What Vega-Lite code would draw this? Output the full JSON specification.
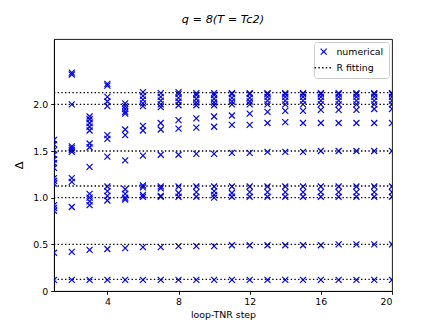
{
  "$schema": "https://vega.github.io/schema/vega-lite/v6.json",
  "autosize": {"type": "none"},
  "width": 338,
  "height": 252,
  "padding": {"left": 54, "top": 39, "right": 44, "bottom": 36},
  "background": "white",
  "config": {
    "font": "DejaVu Sans",
    "view": {"stroke": "#000000", "strokeWidth": 0.9},
    "axis": {"grid": false, "domainColor": "#000000", "domainWidth": 0.9, "tickColor": "#000000", "tickWidth": 0.9, "tickSize": 3.3, "labelFont": "DejaVu Sans", "labelFontSize": 9.4, "labelColor": "#000000", "titleFont": "DejaVu Sans", "titleFontWeight": "normal", "titleColor": "#000000", "labelPadding": 3},
    "legend": {
      "title": null, "orient": "top-right", "offset": 3,
      "labelFontSize": 9.4, "labelFont": "DejaVu Sans", "labelColor": "#000000",
      "strokeColor": "#cccccc", "fillColor": "white", "padding": 5, "cornerRadius": 3,
      "labelOffset": 8, "rowPadding": 4
    }
  },
  "title": {"text": "q = 8(T = Tc2)", "fontStyle": "italic", "fontWeight": "normal", "fontSize": 11.3, "font": "DejaVu Sans", "color": "#000000", "offset": 14},
  "datasets": {
    "pts": [
      {"step": 1, "delta": 0.12, "series": "numerical"}, {"step": 1, "delta": 0.41, "series": "numerical"}, {"step": 1, "delta": 0.86, "series": "numerical"}, {"step": 1, "delta": 0.89, "series": "numerical"}, {"step": 1, "delta": 0.92, "series": "numerical"}, {"step": 1, "delta": 1.15, "series": "numerical"}, {"step": 1, "delta": 1.18, "series": "numerical"}, {"step": 1, "delta": 1.21, "series": "numerical"}, {"step": 1, "delta": 1.32, "series": "numerical"}, {"step": 1, "delta": 1.37, "series": "numerical"}, {"step": 1, "delta": 1.41, "series": "numerical"}, {"step": 1, "delta": 1.46, "series": "numerical"}, {"step": 1, "delta": 1.51, "series": "numerical"}, {"step": 1, "delta": 1.57, "series": "numerical"}, {"step": 1, "delta": 1.62, "series": "numerical"},
      {"step": 2, "delta": 0.12, "series": "numerical"}, {"step": 2, "delta": 0.42, "series": "numerical"}, {"step": 2, "delta": 0.90, "series": "numerical"}, {"step": 2, "delta": 1.17, "series": "numerical"}, {"step": 2, "delta": 1.21, "series": "numerical"}, {"step": 2, "delta": 1.49, "series": "numerical"}, {"step": 2, "delta": 1.51, "series": "numerical"}, {"step": 2, "delta": 1.53, "series": "numerical"}, {"step": 2, "delta": 1.55, "series": "numerical"}, {"step": 2, "delta": 2.0, "series": "numerical"}, {"step": 2, "delta": 2.32, "series": "numerical"}, {"step": 2, "delta": 2.34, "series": "numerical"},
      {"step": 3, "delta": 0.12, "series": "numerical"}, {"step": 3, "delta": 0.44, "series": "numerical"}, {"step": 3, "delta": 0.92, "series": "numerical"}, {"step": 3, "delta": 0.96, "series": "numerical"}, {"step": 3, "delta": 1.0, "series": "numerical"}, {"step": 3, "delta": 1.04, "series": "numerical"}, {"step": 3, "delta": 1.33, "series": "numerical"}, {"step": 3, "delta": 1.54, "series": "numerical"}, {"step": 3, "delta": 1.58, "series": "numerical"}, {"step": 3, "delta": 1.72, "series": "numerical"}, {"step": 3, "delta": 1.76, "series": "numerical"}, {"step": 3, "delta": 1.8, "series": "numerical"}, {"step": 3, "delta": 1.84, "series": "numerical"}, {"step": 3, "delta": 1.87, "series": "numerical"},
      {"step": 4, "delta": 0.12, "series": "numerical"}, {"step": 4, "delta": 0.45, "series": "numerical"}, {"step": 4, "delta": 0.97, "series": "numerical"}, {"step": 4, "delta": 1.02, "series": "numerical"}, {"step": 4, "delta": 1.07, "series": "numerical"}, {"step": 4, "delta": 1.12, "series": "numerical"}, {"step": 4, "delta": 1.44, "series": "numerical"}, {"step": 4, "delta": 1.63, "series": "numerical"}, {"step": 4, "delta": 1.67, "series": "numerical"}, {"step": 4, "delta": 1.98, "series": "numerical"}, {"step": 4, "delta": 2.03, "series": "numerical"}, {"step": 4, "delta": 2.08, "series": "numerical"}, {"step": 4, "delta": 2.2, "series": "numerical"}, {"step": 4, "delta": 2.22, "series": "numerical"},
      {"step": 5, "delta": 0.12, "series": "numerical"}, {"step": 5, "delta": 0.46, "series": "numerical"}, {"step": 5, "delta": 0.98, "series": "numerical"}, {"step": 5, "delta": 1.0, "series": "numerical"}, {"step": 5, "delta": 1.04, "series": "numerical"}, {"step": 5, "delta": 1.09, "series": "numerical"}, {"step": 5, "delta": 1.4, "series": "numerical"}, {"step": 5, "delta": 1.67, "series": "numerical"}, {"step": 5, "delta": 1.73, "series": "numerical"}, {"step": 5, "delta": 1.9, "series": "numerical"}, {"step": 5, "delta": 1.92, "series": "numerical"}, {"step": 5, "delta": 1.95, "series": "numerical"}, {"step": 5, "delta": 1.98, "series": "numerical"}, {"step": 5, "delta": 2.01, "series": "numerical"},
      {"step": 6, "delta": 0.12, "series": "numerical"}, {"step": 6, "delta": 0.47, "series": "numerical"}, {"step": 6, "delta": 1.01, "series": "numerical"}, {"step": 6, "delta": 1.03, "series": "numerical"}, {"step": 6, "delta": 1.11, "series": "numerical"}, {"step": 6, "delta": 1.13, "series": "numerical"}, {"step": 6, "delta": 1.45, "series": "numerical"}, {"step": 6, "delta": 1.72, "series": "numerical"}, {"step": 6, "delta": 1.77, "series": "numerical"}, {"step": 6, "delta": 1.98, "series": "numerical"}, {"step": 6, "delta": 2.01, "series": "numerical"}, {"step": 6, "delta": 2.05, "series": "numerical"}, {"step": 6, "delta": 2.09, "series": "numerical"}, {"step": 6, "delta": 2.13, "series": "numerical"},
      {"step": 7, "delta": 0.12, "series": "numerical"}, {"step": 7, "delta": 0.47, "series": "numerical"}, {"step": 7, "delta": 1.01, "series": "numerical"}, {"step": 7, "delta": 1.02, "series": "numerical"}, {"step": 7, "delta": 1.1, "series": "numerical"}, {"step": 7, "delta": 1.12, "series": "numerical"}, {"step": 7, "delta": 1.46, "series": "numerical"}, {"step": 7, "delta": 1.73, "series": "numerical"}, {"step": 7, "delta": 1.8, "series": "numerical"}, {"step": 7, "delta": 1.97, "series": "numerical"}, {"step": 7, "delta": 2.0, "series": "numerical"}, {"step": 7, "delta": 2.04, "series": "numerical"}, {"step": 7, "delta": 2.08, "series": "numerical"}, {"step": 7, "delta": 2.12, "series": "numerical"},
      {"step": 8, "delta": 0.12, "series": "numerical"}, {"step": 8, "delta": 0.48, "series": "numerical"}, {"step": 8, "delta": 1.01, "series": "numerical"}, {"step": 8, "delta": 1.05, "series": "numerical"}, {"step": 8, "delta": 1.12, "series": "numerical"}, {"step": 8, "delta": 1.46, "series": "numerical"}, {"step": 8, "delta": 1.74, "series": "numerical"}, {"step": 8, "delta": 1.83, "series": "numerical"}, {"step": 8, "delta": 1.99, "series": "numerical"}, {"step": 8, "delta": 2.03, "series": "numerical"}, {"step": 8, "delta": 2.07, "series": "numerical"}, {"step": 8, "delta": 2.11, "series": "numerical"}, {"step": 8, "delta": 2.13, "series": "numerical"},
      {"step": 9, "delta": 0.12, "series": "numerical"}, {"step": 9, "delta": 0.48, "series": "numerical"}, {"step": 9, "delta": 1.01, "series": "numerical"}, {"step": 9, "delta": 1.06, "series": "numerical"}, {"step": 9, "delta": 1.12, "series": "numerical"}, {"step": 9, "delta": 1.47, "series": "numerical"}, {"step": 9, "delta": 1.75, "series": "numerical"}, {"step": 9, "delta": 1.85, "series": "numerical"}, {"step": 9, "delta": 1.99, "series": "numerical"}, {"step": 9, "delta": 2.02, "series": "numerical"}, {"step": 9, "delta": 2.06, "series": "numerical"}, {"step": 9, "delta": 2.1, "series": "numerical"}, {"step": 9, "delta": 2.12, "series": "numerical"},
      {"step": 10, "delta": 0.12, "series": "numerical"}, {"step": 10, "delta": 0.48, "series": "numerical"}, {"step": 10, "delta": 1.0, "series": "numerical"}, {"step": 10, "delta": 1.03, "series": "numerical"}, {"step": 10, "delta": 1.07, "series": "numerical"}, {"step": 10, "delta": 1.12, "series": "numerical"}, {"step": 10, "delta": 1.47, "series": "numerical"}, {"step": 10, "delta": 1.76, "series": "numerical"}, {"step": 10, "delta": 1.87, "series": "numerical"}, {"step": 10, "delta": 1.99, "series": "numerical"}, {"step": 10, "delta": 2.02, "series": "numerical"}, {"step": 10, "delta": 2.06, "series": "numerical"}, {"step": 10, "delta": 2.1, "series": "numerical"}, {"step": 10, "delta": 2.12, "series": "numerical"},
      {"step": 11, "delta": 0.12, "series": "numerical"}, {"step": 11, "delta": 0.49, "series": "numerical"}, {"step": 11, "delta": 1.01, "series": "numerical"}, {"step": 11, "delta": 1.05, "series": "numerical"}, {"step": 11, "delta": 1.12, "series": "numerical"}, {"step": 11, "delta": 1.48, "series": "numerical"}, {"step": 11, "delta": 1.78, "series": "numerical"}, {"step": 11, "delta": 1.88, "series": "numerical"}, {"step": 11, "delta": 2.0, "series": "numerical"}, {"step": 11, "delta": 2.03, "series": "numerical"}, {"step": 11, "delta": 2.07, "series": "numerical"}, {"step": 11, "delta": 2.11, "series": "numerical"}, {"step": 11, "delta": 2.12, "series": "numerical"},
      {"step": 12, "delta": 0.12, "series": "numerical"}, {"step": 12, "delta": 0.49, "series": "numerical"}, {"step": 12, "delta": 1.01, "series": "numerical"}, {"step": 12, "delta": 1.06, "series": "numerical"}, {"step": 12, "delta": 1.12, "series": "numerical"}, {"step": 12, "delta": 1.48, "series": "numerical"}, {"step": 12, "delta": 1.78, "series": "numerical"}, {"step": 12, "delta": 1.9, "series": "numerical"}, {"step": 12, "delta": 2.0, "series": "numerical"}, {"step": 12, "delta": 2.03, "series": "numerical"}, {"step": 12, "delta": 2.07, "series": "numerical"}, {"step": 12, "delta": 2.11, "series": "numerical"}, {"step": 12, "delta": 2.12, "series": "numerical"},
      {"step": 13, "delta": 0.12, "series": "numerical"}, {"step": 13, "delta": 0.49, "series": "numerical"}, {"step": 13, "delta": 1.01, "series": "numerical"}, {"step": 13, "delta": 1.06, "series": "numerical"}, {"step": 13, "delta": 1.12, "series": "numerical"}, {"step": 13, "delta": 1.49, "series": "numerical"}, {"step": 13, "delta": 1.8, "series": "numerical"}, {"step": 13, "delta": 1.92, "series": "numerical"}, {"step": 13, "delta": 2.0, "series": "numerical"}, {"step": 13, "delta": 2.04, "series": "numerical"}, {"step": 13, "delta": 2.08, "series": "numerical"}, {"step": 13, "delta": 2.11, "series": "numerical"}, {"step": 13, "delta": 2.12, "series": "numerical"},
      {"step": 14, "delta": 0.12, "series": "numerical"}, {"step": 14, "delta": 0.49, "series": "numerical"}, {"step": 14, "delta": 1.01, "series": "numerical"}, {"step": 14, "delta": 1.06, "series": "numerical"}, {"step": 14, "delta": 1.12, "series": "numerical"}, {"step": 14, "delta": 1.49, "series": "numerical"}, {"step": 14, "delta": 1.81, "series": "numerical"}, {"step": 14, "delta": 1.93, "series": "numerical"}, {"step": 14, "delta": 2.0, "series": "numerical"}, {"step": 14, "delta": 2.04, "series": "numerical"}, {"step": 14, "delta": 2.08, "series": "numerical"}, {"step": 14, "delta": 2.11, "series": "numerical"}, {"step": 14, "delta": 2.12, "series": "numerical"},
      {"step": 15, "delta": 0.12, "series": "numerical"}, {"step": 15, "delta": 0.49, "series": "numerical"}, {"step": 15, "delta": 1.01, "series": "numerical"}, {"step": 15, "delta": 1.06, "series": "numerical"}, {"step": 15, "delta": 1.12, "series": "numerical"}, {"step": 15, "delta": 1.49, "series": "numerical"}, {"step": 15, "delta": 1.8, "series": "numerical"}, {"step": 15, "delta": 1.93, "series": "numerical"}, {"step": 15, "delta": 2.0, "series": "numerical"}, {"step": 15, "delta": 2.04, "series": "numerical"}, {"step": 15, "delta": 2.08, "series": "numerical"}, {"step": 15, "delta": 2.11, "series": "numerical"}, {"step": 15, "delta": 2.12, "series": "numerical"},
      {"step": 16, "delta": 0.12, "series": "numerical"}, {"step": 16, "delta": 0.49, "series": "numerical"}, {"step": 16, "delta": 1.01, "series": "numerical"}, {"step": 16, "delta": 1.06, "series": "numerical"}, {"step": 16, "delta": 1.12, "series": "numerical"}, {"step": 16, "delta": 1.5, "series": "numerical"}, {"step": 16, "delta": 1.8, "series": "numerical"}, {"step": 16, "delta": 1.94, "series": "numerical"}, {"step": 16, "delta": 2.0, "series": "numerical"}, {"step": 16, "delta": 2.04, "series": "numerical"}, {"step": 16, "delta": 2.08, "series": "numerical"}, {"step": 16, "delta": 2.11, "series": "numerical"}, {"step": 16, "delta": 2.12, "series": "numerical"},
      {"step": 17, "delta": 0.12, "series": "numerical"}, {"step": 17, "delta": 0.5, "series": "numerical"}, {"step": 17, "delta": 1.01, "series": "numerical"}, {"step": 17, "delta": 1.06, "series": "numerical"}, {"step": 17, "delta": 1.12, "series": "numerical"}, {"step": 17, "delta": 1.5, "series": "numerical"}, {"step": 17, "delta": 1.8, "series": "numerical"}, {"step": 17, "delta": 1.94, "series": "numerical"}, {"step": 17, "delta": 2.0, "series": "numerical"}, {"step": 17, "delta": 2.04, "series": "numerical"}, {"step": 17, "delta": 2.08, "series": "numerical"}, {"step": 17, "delta": 2.11, "series": "numerical"}, {"step": 17, "delta": 2.12, "series": "numerical"},
      {"step": 18, "delta": 0.12, "series": "numerical"}, {"step": 18, "delta": 0.5, "series": "numerical"}, {"step": 18, "delta": 1.01, "series": "numerical"}, {"step": 18, "delta": 1.06, "series": "numerical"}, {"step": 18, "delta": 1.12, "series": "numerical"}, {"step": 18, "delta": 1.5, "series": "numerical"}, {"step": 18, "delta": 1.8, "series": "numerical"}, {"step": 18, "delta": 1.94, "series": "numerical"}, {"step": 18, "delta": 2.0, "series": "numerical"}, {"step": 18, "delta": 2.04, "series": "numerical"}, {"step": 18, "delta": 2.08, "series": "numerical"}, {"step": 18, "delta": 2.11, "series": "numerical"}, {"step": 18, "delta": 2.12, "series": "numerical"},
      {"step": 19, "delta": 0.12, "series": "numerical"}, {"step": 19, "delta": 0.5, "series": "numerical"}, {"step": 19, "delta": 1.01, "series": "numerical"}, {"step": 19, "delta": 1.06, "series": "numerical"}, {"step": 19, "delta": 1.12, "series": "numerical"}, {"step": 19, "delta": 1.5, "series": "numerical"}, {"step": 19, "delta": 1.8, "series": "numerical"}, {"step": 19, "delta": 1.95, "series": "numerical"}, {"step": 19, "delta": 2.0, "series": "numerical"}, {"step": 19, "delta": 2.04, "series": "numerical"}, {"step": 19, "delta": 2.08, "series": "numerical"}, {"step": 19, "delta": 2.11, "series": "numerical"}, {"step": 19, "delta": 2.12, "series": "numerical"},
      {"step": 20, "delta": 0.12, "series": "numerical"}, {"step": 20, "delta": 0.5, "series": "numerical"}, {"step": 20, "delta": 1.01, "series": "numerical"}, {"step": 20, "delta": 1.06, "series": "numerical"}, {"step": 20, "delta": 1.12, "series": "numerical"}, {"step": 20, "delta": 1.5, "series": "numerical"}, {"step": 20, "delta": 1.8, "series": "numerical"}, {"step": 20, "delta": 1.95, "series": "numerical"}, {"step": 20, "delta": 2.0, "series": "numerical"}, {"step": 20, "delta": 2.04, "series": "numerical"}, {"step": 20, "delta": 2.08, "series": "numerical"}, {"step": 20, "delta": 2.11, "series": "numerical"}, {"step": 20, "delta": 2.12, "series": "numerical"}
    ],
    "fits": [
      {"level": 0.125, "series": "R fitting"},
      {"level": 0.5, "series": "R fitting"},
      {"level": 1.0, "series": "R fitting"},
      {"level": 1.125, "series": "R fitting"},
      {"level": 1.5, "series": "R fitting"},
      {"level": 2.0, "series": "R fitting"},
      {"level": 2.125, "series": "R fitting"}
    ]
  },
  "layer": [
    {
      "data": {"name": "pts"},
      "mark": {"type": "point", "shape": "M-1,-1L1,1M1,-1L-1,1", "filled": false, "strokeWidth": 1.2, "size": 36, "opacity": 1, "clip": true},
      "encoding": {
        "x": {"field": "step", "type": "quantitative", "scale": {"domain": [1, 20], "nice": false, "zero": false},
              "axis": {"values": [4, 8, 12, 16, 20], "title": "loop-TNR step", "titleFontSize": 9.4, "titlePadding": 5}},
        "y": {"field": "delta", "type": "quantitative", "scale": {"domain": [0, 2.7], "nice": false, "zero": false},
              "axis": {"values": [0, 0.5, 1.0, 1.5, 2.0], "labelExpr": "datum.value == 0 ? '0' : format(datum.value, '.1f')", "title": "Δ", "titleFontSize": 11.3, "titlePadding": 8}},
        "color": {"field": "series", "type": "nominal",
                  "scale": {"domain": ["numerical", "R fitting"], "range": ["#0000ff", "#000000"]},
                  "legend": {
                    "symbolType": "M-1,-1L1,1M1,-1L-1,1",
                    "encode": {
                      "symbols": {"update": {
                        "shape": {"signal": "datum.value === 'numerical' ? 'M-1,-1L1,1M1,-1L-1,1' : 'M-1,0L1,0'"},
                        "size": {"signal": "datum.value === 'numerical' ? 36 : 324"},
                        "strokeDash": {"signal": "datum.value === 'numerical' ? [1,0] : [1.4, 2.3]"},
                        "stroke": {"signal": "datum.value === 'numerical' ? '#0000ff' : '#000000'"},
                        "strokeWidth": {"signal": "datum.value === 'numerical' ? 1.2 : 1.4"},
                        "fill": {"value": "transparent"},
                        "opacity": {"value": 1}
                      }}
                    }
                  }}
      }
    },
    {
      "data": {"name": "fits"},
      "mark": {"type": "rule", "strokeWidth": 1.4, "strokeDash": [1.4, 2.3], "clip": true},
      "encoding": {
        "y": {"field": "level", "type": "quantitative", "scale": {"domain": [0, 2.7], "nice": false, "zero": false}},
        "color": {"field": "series", "type": "nominal", "legend": {
                    "symbolType": "M-1,-1L1,1M1,-1L-1,1",
                    "encode": {
                      "symbols": {"update": {
                        "shape": {"signal": "datum.value === 'numerical' ? 'M-1,-1L1,1M1,-1L-1,1' : 'M-1,0L1,0'"},
                        "size": {"signal": "datum.value === 'numerical' ? 36 : 324"},
                        "strokeDash": {"signal": "datum.value === 'numerical' ? [1,0] : [1.4, 2.3]"},
                        "stroke": {"signal": "datum.value === 'numerical' ? '#0000ff' : '#000000'"},
                        "strokeWidth": {"signal": "datum.value === 'numerical' ? 1.2 : 1.4"},
                        "fill": {"value": "transparent"},
                        "opacity": {"value": 1}
                      }}
                    }
                  }}
      }
    }
  ]
}
